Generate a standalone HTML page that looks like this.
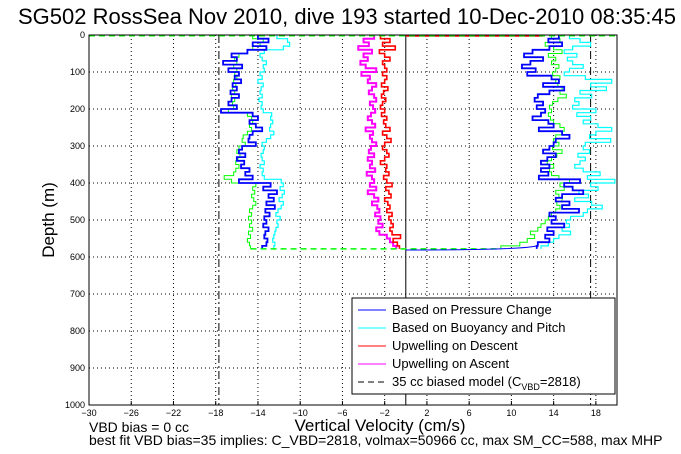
<!DOCTYPE html>
<html><head><meta charset="utf-8"><style>
body{margin:0;background:#fff;width:681px;height:454px;overflow:hidden}
svg{display:block;font-family:"Liberation Sans",sans-serif}
</style></head><body>
<svg id="chart" width="681" height="454">
<text x="18" y="24" font-size="22">SG502 RossSea Nov 2010, dive 193 started 10-Dec-2010 08:35:45</text>
<g id="grid"></g>
<g id="series"></g>
<rect x="89" y="35" width="528" height="370" fill="none" stroke="#000" stroke-width="1"/>
<g id="ticks"></g>
<text x="54" y="220" font-size="17" transform="rotate(-90 54 220)" text-anchor="middle">Depth (m)</text>
<text x="380" y="431" font-size="17" text-anchor="middle">Vertical Velocity (cm/s)</text>
<text x="89" y="432" font-size="14">VBD bias = 0 cc</text>
<text x="89" y="445" font-size="14">best fit VBD bias=35 implies: C_VBD=2818, volmax=50966 cc, max SM_CC=588, max MHP</text>
<g>
<rect x="352" y="298" width="263" height="96" fill="#fff" stroke="#000"/>
<line x1="358" y1="310" x2="386" y2="310" stroke="#00f"/><text x="392" y="314" font-size="13">Based on Pressure Change</text>
<line x1="358" y1="328" x2="386" y2="328" stroke="#0ff"/><text x="392" y="332" font-size="13">Based on Buoyancy and Pitch</text>
<line x1="358" y1="346" x2="386" y2="346" stroke="#f00"/><text x="392" y="350" font-size="13">Upwelling on Descent</text>
<line x1="358" y1="364" x2="386" y2="364" stroke="#f0f"/><text x="392" y="368" font-size="13">Upwelling on Ascent</text>
<line x1="358" y1="382" x2="386" y2="382" stroke="#000" stroke-dasharray="6,4"/><text x="392" y="386" font-size="13">35 cc biased model (C<tspan font-size="9" dy="4">VBD</tspan><tspan dy="-4">=2818)</tspan></text>
</g>
</svg>
<script>
const xTicks=[-30,-26,-22,-18,-14,-10,-6,-2,2,6,10,14,18];
const yTicks=[0,100,200,300,400,500,600,700,800,900,1000];
const depthStep=10;
const descPressure=[-14,-13,-14.5,-13.2,-15,-16.5,-16,-17.3,-15.5,-16.8,-15.8,-16.2,-15.6,-16.4,-16,-16.6,-15.8,-16.5,-16.8,-16,-17.5,-14.5,-14,-14.8,-14.2,-13.6,-14.5,-14.8,-14.9,-14.2,-15.5,-15.8,-15.2,-16,-15.3,-15.6,-14.8,-15.2,-14.5,-15.8,-12.8,-13.5,-12.2,-13,-12.5,-13.2,-12.4,-13.3,-12.9,-13.4,-13.2,-13.5,-13,-13.3,-13.4,-13.1,-13.2,-13.6];
const descBuoy=[-12.2,-11.2,-11,-11.6,-13.4,-13.8,-13.6,-13.2,-13.5,-13.4,-13.8,-13.6,-14,-13.5,-13.7,-13.8,-13.6,-13.9,-13.6,-13.7,-13.5,-12.7,-12.8,-12.6,-12.8,-12.9,-12.5,-12.8,-13.2,-13.6,-13.4,-13.5,-13.7,-13.6,-13.4,-13.8,-13.5,-13.6,-13.4,-11.8,-11.6,-11.9,-11.5,-11.7,-12,-11.6,-11.8,-12.1,-12.3,-11.9,-12.2,-12.1,-12.3,-12.4,-12.5,-12.6,-12.4,-12.5];
const descModel=[-14.5,-13.5,-13.8,-14.5,-15,-15.8,-16.2,-16,-16.3,-16,-16.2,-16,-16.3,-16.1,-16.4,-16.2,-16.5,-16.2,-16.4,-16.3,-16.8,-15,-14.6,-14.5,-14.8,-14.6,-15,-15.4,-15.5,-15.2,-15.8,-16,-15.7,-15.9,-16.1,-15.8,-16.1,-16.3,-17.2,-16.5,-14.2,-14.5,-14.3,-14.6,-14.4,-14.2,-14.5,-14.8,-14.6,-14.9,-14.6,-14.8,-14.5,-14.9,-14.7,-15,-14.8,-14.7];
const ascPressure=[14.5,13.5,14.8,13.6,12,11.2,13,11.8,11,12.3,11.5,13.8,14.5,13,15,13.6,12.5,12.2,13,12.4,13.2,12.8,12,13.5,14,12.6,14.8,15.5,14.2,14,13.6,13,14.2,13.4,12.8,13.6,12.8,13.5,12.6,16.5,15,15.8,16.8,14.8,14.2,15.5,14.8,16.4,13.6,14.2,13.8,15,13.4,14,13.2,13.6,12.5,12.4];
const ascBuoy=[15.5,16.5,17.5,15.8,15,16.2,15.3,15.8,16.8,15.5,15,17,19.5,17.5,19,16.5,17.6,16,16.4,15.8,18,16.2,17.5,16.8,18.2,19.5,18,17.4,19.4,17,16.8,17.4,16.3,17,16.5,16,16.8,18.4,17.2,19.8,17.5,18.2,16.4,17.3,16,17.6,18.6,17.2,16.8,15.6,15.2,15.5,14.8,15.6,14.5,14,13.5,12.8];
const ascModel=[13.8,14.6,13.2,14,14.8,13.5,14.2,13.8,14.5,14.2,13.9,14.6,14.2,14.4,14.8,14.6,15.2,14.4,13.9,13.6,13.8,13.5,13.7,14,14.6,15,14.8,14.2,14,14.5,13.9,14.8,14.3,13.8,13.4,14,13.6,13.8,14.5,15.5,14.6,15,14.2,14.5,14.8,14.3,14.6,14.2,13.8,13.5,13.2,12.8,12.5,11.8,12.2,11.5,10.8,9];
const upDescent=[-2.4,-1.5,-2.2,-1,-2.5,-2,-1.5,-2.2,-2,-1.8,-2.2,-1.8,-2,-2.3,-1.7,-2.1,-2.3,-1.9,-2.2,-2.4,-2,-2.3,-1.8,-2.1,-1.9,-1.5,-2.2,-1.8,-1.4,-2,-2.2,-1.8,-1.6,-2,-2.4,-1.8,-1.9,-1.6,-2.1,-1.8,-1.3,-1.9,-1.6,-1.4,-2,-1.7,-1.5,-1.8,-1.3,-1.6,-1.4,-1.2,-1.5,-1.3,-0.5,-1.2,-0.8,-0.6];
const upAscent=[-3,-4,-3.5,-4.5,-3.2,-4,-3.6,-4.3,-3.8,-2.8,-4.2,-3.4,-3.6,-2.8,-3.2,-3.5,-3,-2.8,-3.4,-3.1,-2.9,-3.3,-3.6,-3.2,-2.9,-3.8,-3.1,-3.4,-3.2,-2.8,-3.3,-3.5,-3,-3.6,-3.2,-3.4,-2.9,-3.7,-3.2,-3,-3.4,-2.8,-3.6,-3,-2.6,-3.2,-2.7,-2.5,-2.9,-2.4,-2.6,-2.2,-2.8,-2.5,-1.8,-1.5,-1.2,-0.9];
const modelLimits=[-17.7,17.5];
const bottomDepth=578;

const NS='http://www.w3.org/2000/svg';
const X0=89,X1=617,Y0=35,Y1=405;
const xs=v=>X0+(v+30)/50*(X1-X0);
const ys=d=>Y0+d/1000*(Y1-Y0);
function mk(tag,attrs,parent){const e=document.createElementNS(NS,tag);for(const k in attrs)e.setAttribute(k,attrs[k]);parent.appendChild(e);return e;}
const gridG=document.getElementById('grid'),ticksG=document.getElementById('ticks'),serG=document.getElementById('series');
xTicks.forEach(t=>{
 const g=mk('line',{x1:xs(t),x2:xs(t),y1:Y0,y2:Y1,stroke:'#000','stroke-dasharray':'1,3'},gridG);
 
 
 mk('line',{x1:xs(t),x2:xs(t),y1:Y1,y2:Y1-4,stroke:'#000'},ticksG);
 const l=mk('text',{x:xs(t),y:Y1+11,'font-size':9,'text-anchor':'middle'},ticksG);l.textContent=String(t).replace('-','\u2212');
 
 
});
yTicks.forEach(t=>{
 const g=mk('line',{x1:X0,x2:X1,y1:ys(t),y2:ys(t),stroke:'#000','stroke-dasharray':'1,3'},gridG);
 
 
 const l=mk('text',{x:X0-4,y:ys(t)+3,'font-size':9,'text-anchor':'end'},ticksG);l.textContent=t;
 
 
});
modelLimits.forEach(v=>{
 const e=mk('line',{x1:xs(v),x2:xs(v),y1:Y0,y2:Y1,stroke:'#000','stroke-dasharray':'8,3,2,3'},serG);
 
 
});
const zeroLine=mk('line',{x1:xs(0),x2:xs(0),y1:Y0,y2:Y1,stroke:'#000'},serG);


function stairs(vals,color,name,w){
 let d='';vals.forEach((v,i)=>{const y1=ys(i*depthStep),y2=ys(Math.min((i+1)*depthStep,bottomDepth));d+=(i?'L':'M')+xs(v)+' '+y1+'L'+xs(v)+' '+y2;});
 const p=mk('path',{d:d,fill:'none',stroke:color,'stroke-width':w},serG);
 
 
}
stairs(descBuoy,'#0ff','descent-buoyancy-line',1.2);
stairs(ascBuoy,'#0ff','ascent-buoyancy-line',1.2);
stairs(descModel,'#0f0','descent-model-line',1);
stairs(ascModel,'#0f0','ascent-model-line',1);
stairs(descPressure,'#00f','descent-pressure-line',1.8);
stairs(ascPressure,'#00f','ascent-pressure-line',1.8);
stairs(upAscent,'#f0f','upwelling-ascent-line',2);
stairs(upDescent,'#f00','upwelling-descent-line',1.6);
const surfRed=mk('line',{x1:xs(0),x2:xs(13),y1:ys(3),y2:ys(3),stroke:'#f00','stroke-width':1.2},serG);


const surfGreen=mk('line',{x1:X0,x2:X1,y1:ys(2),y2:ys(2),stroke:'#0f0','stroke-width':1.5,'stroke-dasharray':'6,4'},serG);


const bottomLine=mk('line',{x1:xs(descModel[descModel.length-1]),x2:xs(ascModel[ascModel.length-1]),y1:ys(bottomDepth),y2:ys(bottomDepth),stroke:'#0f0','stroke-width':1.5,'stroke-dasharray':'6,4'},serG);


const bottomCurve=mk('path',{d:'M'+xs(0)+' '+ys(bottomDepth+3)+'Q'+xs(11)+' '+ys(bottomDepth+3)+' '+xs(ascPressure[ascPressure.length-1])+' '+ys(bottomDepth-8),fill:'none',stroke:'#00f','stroke-width':1},serG);


</script>
</body></html>
